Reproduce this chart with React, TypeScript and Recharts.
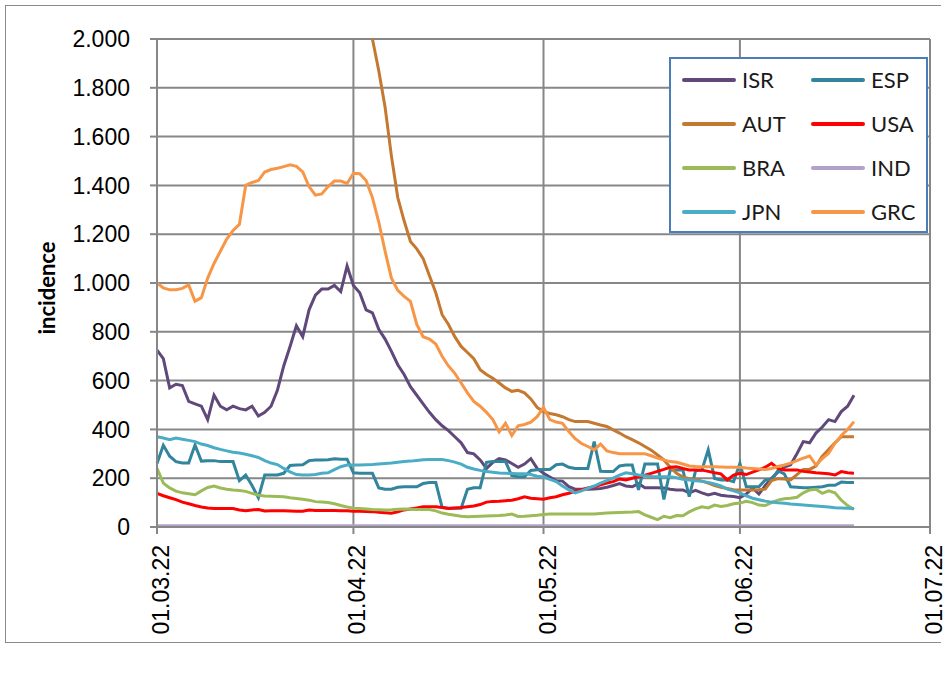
import React from 'react';
import { LineChart, Line, XAxis, YAxis, CartesianGrid, Legend } from 'recharts';

// ---- data (daily, 01.03.22 .. 19.06.22) ----
const dayIndex: number[] = Array.from({ length: 111 }, (_, i) => i);

const tickDays = [0, 31, 61, 92, 122];
const tickLabels = ['01.03.22', '01.04.22', '01.05.22', '01.06.22', '01.07.22'];
const yTicks = [0, 200, 400, 600, 800, 1000, 1200, 1400, 1600, 1800, 2000];

const ISR = [725, 690, 570, 585, 580, 515, 505, 495, 440, 540, 495, 480, 495, 485, 480, 495, 455, 470, 495, 560,
  660, 740, 825, 780, 890, 950, 975, 975, 990, 965, 1070, 990, 960, 890, 878, 810, 770, 720, 665, 625,
  575, 540, 505, 470, 440, 415, 395, 370, 345, 305, 300, 275, 240, 265, 280, 275, 260, 245, 258, 280,
  240, 220, 205, 190, 188, 165, 155, 155, 155, 156, 158, 163, 170, 178, 168, 165, 178, 161, 161, 161,
  160, 155, 152, 152, 140, 150, 140, 131, 138, 130, 127, 125, 120, 135, 160, 135, 170, 200, 225, 245,
  255, 300, 350, 345, 385, 410, 440, 432, 473, 495, 540];

const ESP = [260, 335, 290, 268, 262, 262, 336, 270, 272, 272, 268, 268, 268, 190, 213, 170, 120, 213, 213, 213,
  220, 252, 254, 255, 272, 275, 275, 276, 280, 278, 278, 222, 220, 220, 220, 160, 155, 155, 163, 165,
  165, 165, 178, 182, 182, 80, 77, 77, 77, 155, 161, 161, 265, 268, 268, 268, 210, 206, 206, 232,
  235, 236, 236, 255, 258, 245, 240, 240, 240, 350, 228, 227, 227, 250, 254, 254, 152, 258, 258, 258,
  113, 234, 234, 234, 124, 230, 234, 316, 199, 193, 193, 186, 261, 165, 165, 165, 193, 193, 231, 218,
  165, 163, 161, 161, 163, 165, 171, 171, 184, 182, 182];

const AUT: (number | null)[] = [null, null, null, null, null, null, null, null, null, null, null, null, null, null, null, null, null, null, null, null,
  null, null, null, null, null, null, null, null, null, null, null, null, null, null, 2000, 1870, 1720, 1520, 1350, 1255,
  1170, 1140, 1100, 1030, 960, 870, 830, 780, 740, 715, 690, 645, 625, 610, 590, 570, 556, 560, 550, 525,
  490, 473, 465, 460, 452, 440, 432, 432, 432, 425, 418, 412, 398, 385, 370, 358, 345, 330, 315, 295,
  275, 245, 220, 205, 198, 195, 188, 180, 170, 163, 158, 153, 152, 152, 152, 153, 155, 190, 198, 197,
  193, 215, 236, 236, 250, 290, 318, 345, 370, 370, 370];

const USA = [138, 128, 120, 112, 102, 95, 88, 82, 78, 76, 76, 76, 76, 70, 67, 70, 72, 66, 67, 67,
  67, 66, 65, 65, 70, 68, 68, 68, 68, 67, 67, 65, 65, 64, 63, 60, 58, 56, 62, 70,
  74, 78, 83, 83, 83, 80, 76, 78, 80, 83, 86, 92, 102, 105, 106, 108, 110, 116, 124, 118,
  116, 114, 120, 124, 132, 138, 146, 153, 160, 165, 173, 180, 186, 197, 193, 200, 206, 212, 220, 228,
  236, 245, 247, 240, 234, 234, 233, 228, 222, 218, 193, 213, 220, 215, 225, 234, 245, 261, 240, 234,
  234, 234, 228, 225, 222, 220, 218, 213, 227, 222, 220];

const BRA = [240, 180, 160, 147, 140, 136, 132, 148, 162, 168, 160, 155, 152, 150, 146, 138, 130, 127, 126, 125,
  124, 120, 117, 114, 110, 104, 102, 100, 95, 88, 82, 77, 76, 74, 72, 71, 70, 71, 73, 74,
  73, 72, 72, 72, 66, 57, 52, 48, 44, 42, 43, 44, 45, 46, 47, 49, 53, 43, 44, 46,
  48, 51, 53, 53, 53, 53, 53, 53, 53, 53, 55, 57, 58, 59, 60, 61, 63, 50, 40, 30,
  44, 38, 47, 46, 62, 74, 83, 78, 90, 84, 88, 95, 98, 105, 100, 90, 88, 100, 110, 116,
  118, 122, 140, 152, 155, 138, 148, 140, 110, 88, 72];

const IND = [5, 5, 5, 5, 5, 5, 5, 5, 5, 5, 5, 5, 5, 5, 5, 5, 5, 5, 5, 5,
  5, 5, 5, 5, 5, 5, 5, 5, 5, 5, 5, 5, 5, 5, 5, 5, 5, 5, 5, 5,
  5, 5, 5, 5, 5, 5, 5, 5, 5, 5, 5, 5, 5, 5, 5, 5, 5, 5, 5, 5,
  5, 5, 5, 5, 5, 5, 5, 5, 5, 5, 5, 5, 5, 5, 5, 5, 5, 5, 5, 5,
  5, 5, 5, 5, 5, 5, 5, 5, 5, 5, 5, 5, 5, 5, 5, 5, 5, 5, 5, 5,
  5, 5, 5, 5, 5, 5, 5, 5, 5, 5, 5];

const JPN = [370, 365, 358, 365, 360, 355, 350, 340, 334, 325, 318, 312, 306, 303, 298, 292, 285, 272, 262, 256,
  240, 226, 215, 213, 213, 215, 220, 222, 235, 247, 254, 254, 254, 255, 256, 258, 260, 262, 265, 268,
  270, 273, 276, 277, 277, 277, 272, 266, 258, 245, 238, 232, 227, 224, 221, 220, 219, 218, 218, 215,
  208, 205, 195, 186, 168, 152, 140, 148, 158, 168, 180, 190, 200, 213, 222, 218, 213, 210, 207, 206,
  206, 206, 202, 196, 193, 190, 187, 183, 176, 168, 155, 148, 140, 128, 118, 112, 106, 102, 99, 97,
  94, 92, 90, 88, 86, 84, 82, 79, 78, 77, 76];

const GRC = [1000, 980, 972, 972, 978, 992, 925, 940, 1020, 1080, 1130, 1180, 1215, 1240, 1400, 1412, 1420, 1455, 1465, 1470,
  1477, 1484, 1478, 1455, 1395, 1360, 1365, 1395, 1418, 1418, 1408, 1450, 1448, 1420, 1350, 1250, 1130, 1020, 970, 945,
  925, 830, 780, 770, 750, 700, 660, 630, 590, 550, 515, 495, 470, 440, 390, 425, 375, 415, 420, 430,
  452, 490, 440, 430, 425, 391, 362, 342, 330, 316, 340, 312, 305, 300, 300, 300, 300, 300, 292, 282,
  275, 268, 265, 258, 250, 248, 247, 247, 247, 246, 245, 245, 245, 242, 240, 238, 236, 240, 248, 254,
  262, 272, 282, 291, 254, 280, 302, 343, 375, 400, 432];

const seriesNames = ['ISR', 'ESP', 'AUT', 'USA', 'BRA', 'IND', 'JPN', 'GRC'];
const seriesValues: (number | null)[][] = [ISR, ESP, AUT, USA, BRA, IND, JPN, GRC];
const seriesColors = ['#60497A', '#31859C', '#C5782F', '#FF0000', '#9BBB59', '#B3A2C7', '#4BACC6', '#F79646'];

const data = dayIndex.map((d) => {
  const row: Record<string, number | null> = { day: d };
  seriesNames.forEach((n, i) => {
    row[n] = seriesValues[i][d];
  });
  return row;
});

const TICK_FONT = '"Liberation Sans", Arial, sans-serif';
const GRID = '#878787';

const fmtY = (v: number) => v.toLocaleString('de-DE');
const fmtX = (v: number) => tickLabels[tickDays.indexOf(v)] ?? '';

const XTick = (props: any) => {
  const { x, y, payload } = props;
  return (
    <g transform={`translate(${x + 4},${y + 9})`}>
      <text
        transform="rotate(-90)"
        x={0}
        y={0}
        dy="0.35em"
        textAnchor="end"
        fontFamily={TICK_FONT}
        fontSize={23}
        fill="#000"
      >
        {fmtX(payload.value)}
      </text>
    </g>
  );
};

const YLabel = (props: any) => {
  const vb = props.viewBox || {};
  const cy = vb.y + vb.height / 2 + 5;
  return (
    <text
      x={46}
      y={cy}
      transform={`rotate(-90, 46, ${cy})`}
      textAnchor="middle"
      dominantBaseline="central"
      fontFamily="Lato, sans-serif"
      fontWeight="bold"
      fontSize={22}
      fill="#000"
    >
      incidence
    </text>
  );
};

const LegendBox = () => (
  <div
    style={{
      position: 'relative',
      width: 259,
      height: 176,
      boxSizing: 'border-box',
      border: '2px solid #4A7EBB',
      background: '#fff',
    }}
  >
    {seriesNames.map((n, i) => {
      const col = i % 2;
      const row = Math.floor(i / 2);
      const left = col === 0 ? 11 : 140;
      const top = 21 + row * 44;
      return (
        <div key={n} style={{ position: 'absolute', left, top, display: 'flex', alignItems: 'center', height: 0 }}>
          <div style={{ width: 54, height: 4, borderRadius: 2, background: seriesColors[i] }} />
          <span
            style={{
              marginLeft: 6,
              fontFamily: 'Lato, sans-serif',
              fontSize: 22,
              color: '#1a1a1a',
              lineHeight: '22px',
              whiteSpace: 'nowrap',
            }}
          >
            {n}
          </span>
        </div>
      );
    })}
  </div>
);

export default function App() {
  return (
    <div style={{ position: 'fixed', left: 0, top: 0, width: 946, height: 673, background: '#fff' }}>
      <div
        style={{
          position: 'absolute',
          left: 5,
          top: 5,
          width: 936,
          height: 638,
          boxSizing: 'border-box',
          borderLeft: '1px solid #8a8a8a',
          borderTop: '1px solid #8a8a8a',
          borderBottom: '1px solid #8a8a8a',
        }}
      />
      <div style={{ position: 'absolute', left: 0, top: 0 }}>
        <LineChart width={946} height={673} data={data} margin={{ top: 39, right: 16, left: 0, bottom: 0 }}>
          <CartesianGrid stroke={GRID} strokeWidth={2} />
          <XAxis
            type="number"
            dataKey="day"
            domain={[0, 122]}
            ticks={tickDays}
            interval={0}
            height={146}
            tick={<XTick />}
            tickSize={7}
            axisLine={{ stroke: GRID, strokeWidth: 2 }}
            tickLine={{ stroke: GRID, strokeWidth: 2 }}
          />
          <YAxis
            type="number"
            domain={[0, 2000]}
            ticks={yTicks}
            interval={0}
            width={157}
            allowDataOverflow
            tickFormatter={fmtY}
            tickSize={7}
            tickMargin={20}
            tick={{ fontFamily: TICK_FONT, fontSize: 23, fill: '#000' }}
            axisLine={{ stroke: GRID, strokeWidth: 2 }}
            tickLine={{ stroke: GRID, strokeWidth: 2 }}
            label={<YLabel />}
          />
          {seriesNames.map((n, i) => (
            <Line
              key={n}
              type="linear"
              dataKey={n}
              stroke={seriesColors[i]}
              strokeWidth={3}
              dot={false}
              activeDot={false}
              isAnimationActive={false}
              connectNulls={false}
            />
          ))}
          <Legend
            layout="horizontal"
            verticalAlign="middle"
            align="center"
            content={<LegendBox />}
            wrapperStyle={{ position: 'absolute', left: 669, top: 57, width: 259, height: 176 }}
          />
        </LineChart>
      </div>
    </div>
  );
}
